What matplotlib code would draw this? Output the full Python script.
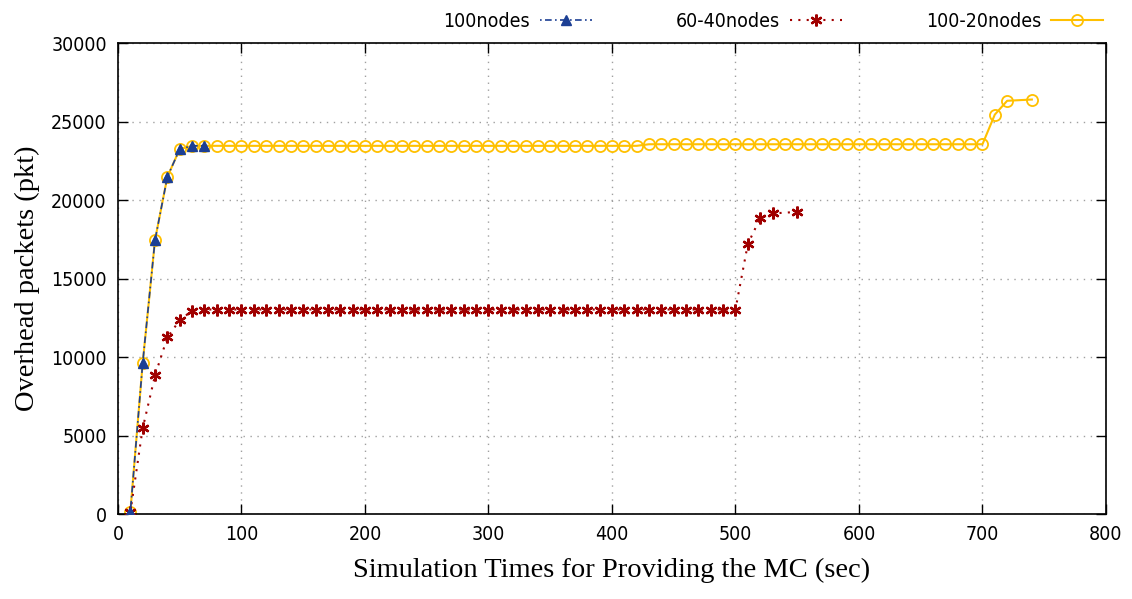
import numpy as np
import matplotlib.pyplot as plt

# simulation time (sec) and overhead packets for each scenario
t_100 = [10, 20, 30, 40, 50, 60, 70]
pkt_100 = [100, 9600, 17450, 21480, 23250, 23460, 23460]

t_6040 = list(range(10, 501, 10)) + [510, 520, 530, 550]
pkt_6040 = ([100, 5450, 8830, 11250, 12350, 12950]
            + [13030] * 44
            + [17200, 18850, 19150, 19250])

t_10020 = list(range(10, 721, 10)) + [740]
pkt_10020 = ([100, 9600, 17450, 21480, 23250]
             + [23460] * 37
             + [23560] * 28
             + [25450, 26330, 26410])

x_ticks = np.arange(0, 801, 100)
y_ticks = np.arange(0, 30001, 5000)

tick_font = {'family': 'DejaVu Sans', 'size': 14, 'stretch': 'condensed'}

fig = plt.figure(figsize=(11.32, 5.99), dpi=100)
ax = fig.add_axes([0.1042, 0.1419, 0.8728, 0.786])

ax.plot(t_100, pkt_100, color='#1c3f94', linestyle=(0, (1, 2, 4, 2)), linewidth=1.2,
        marker='^', markersize=6.5, markerfacecolor='#1c3f94', markeredgecolor='#1c3f94',
        label='100nodes', zorder=4)
ax.plot(t_6040, pkt_6040, color='#a00000', linestyle=(0, (1, 3)), linewidth=1.5,
        marker=(6, 2, 0), markersize=8.5, markeredgewidth=1.7,
        label='60-40nodes', zorder=3)
ax.plot(t_10020, pkt_10020, color='#ffc000', linestyle='-', linewidth=1.5,
        marker='o', markersize=8, markerfacecolor='none', markeredgewidth=1.3,
        label='100-20nodes', zorder=2)

# redraw the triangles on top of the circles so they stay visible
ax.plot(t_100, pkt_100, linestyle='none', marker='^', markersize=6,
        color='#1c3f94', zorder=5)

ax.set_xlim(0, 800)
ax.set_ylim(0, 30000)
ax.set_xticks(x_ticks)
ax.set_yticks(y_ticks)
ax.set_xticklabels([str(v) for v in x_ticks], fontdict=tick_font)
ax.set_yticklabels([str(v) for v in y_ticks], fontdict=tick_font)
ax.tick_params(direction='in', length=7, width=1, top=True, right=True,
               colors='black', pad=8)
ax.grid(True, color='#a0a0a0', linestyle=(0, (1, 4)), linewidth=1)
for sp in ax.spines.values():
    sp.set_linewidth(1.2)

ax.set_xlabel('Simulation Times for Providing the MC (sec)',
              fontfamily='Liberation Serif', fontsize=20.5, labelpad=10)
ax.set_ylabel('Overhead packets (pkt)',
              fontfamily='Liberation Serif', fontsize=20.5, labelpad=8)

fig.legend(loc='upper right', bbox_to_anchor=(0.99, 1.01), ncol=3,
           frameon=False, markerfirst=False, handlelength=2.7,
           columnspacing=4.3, handletextpad=0.5,
           prop={'family': 'DejaVu Sans', 'size': 14, 'stretch': 'condensed'})

fig.savefig('out.png', dpi=100)
